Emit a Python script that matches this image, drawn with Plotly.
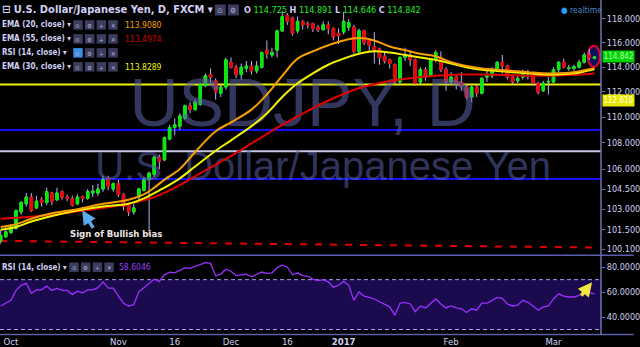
import plotly.graph_objects as go
import pandas as pd

# ---------------- data ----------------
dates = [d.strftime("%Y-%m-%d") for d in pd.bdate_range("2016-09-29", "2017-03-13")]
dates.remove("2017-01-02")

opens = [100.7, 101.0, 101.3, 101.6, 102.8, 103.4, 103.9, 103.1, 103.7, 103.5,
         104.2, 103.7, 104.3, 103.9, 103.8, 103.4, 103.95, 103.8, 104.2, 104.2,
         104.5, 105.3, 104.5, 104.9, 104.1, 103.3, 102.8, 103.9, 104.4, 105.2,
         105.6, 106.9, 106.7, 108.3, 109.2, 109.3, 109.9, 110.9, 110.6, 111.0,
         112.5, 113.4, 112.9, 111.9, 112.4, 114.4, 114.0, 113.4, 113.9, 114.1,
         113.7, 114.0, 115.4, 115.0, 115.4, 117.0, 118.3, 118.1, 117.0, 117.8,
         117.6, 117.6, 117.3, 117.1, 117.5, 117.2, 116.8, 116.9, 117.3, 117.3,
         115.3, 117.0, 116.2, 115.7, 115.5, 114.9, 114.6, 114.2, 112.8, 114.8,
         115.0, 114.6, 112.8, 113.8, 113.3, 114.6, 114.8, 113.8, 112.8, 113.2,
         112.8, 112.4, 111.6, 112.4, 111.9, 113.2, 113.3, 113.7, 114.4, 114.1,
         113.2, 112.9, 113.2, 113.3, 113.3, 112.7, 112.1, 112.8, 112.8, 113.8,
         114.4, 113.9, 113.9, 114.0, 114.4, 115.0, 114.725]
highs = [101.5, 101.7, 101.9, 103.0, 103.6, 104.2, 104.2, 104.0, 103.9, 104.6,
         104.3, 104.6, 104.4, 104.1, 104.0, 104.1, 104.0, 104.5, 104.8, 104.9,
         105.5, 105.5, 105.0, 105.2, 104.2, 103.5, 103.4, 104.6, 105.4, 105.8,
         107.0, 107.1, 108.5, 109.4, 109.9, 110.3, 111.0, 111.2, 111.4, 112.7,
         113.5, 113.9, 113.1, 112.6, 114.8, 114.8, 114.2, 114.3, 114.5, 114.5,
         114.5, 115.3, 116.2, 115.6, 117.1, 118.7, 118.5, 118.2, 118.2, 117.9,
         117.8, 117.7, 117.5, 117.8, 117.8, 117.3, 117.2, 118.6, 118.0, 117.5,
         117.2, 117.1, 116.4, 116.9, 115.6, 115.3, 114.7, 114.3, 114.9, 115.6,
         115.4, 114.7, 114.0, 114.0, 114.7, 115.4, 115.3, 114.0, 113.6, 113.3,
         113.6, 112.6, 112.5, 112.6, 113.2, 113.9, 114.0, 114.5, 115.0, 114.2,
         113.4, 113.3, 113.8, 113.8, 113.4, 112.8, 112.9, 113.2, 114.0, 114.5,
         114.7, 114.2, 114.2, 114.6, 115.2, 115.5, 114.891]
lows = [100.5, 100.9, 101.2, 101.5, 102.6, 103.2, 102.8, 103.0, 103.2, 103.3,
        103.3, 103.6, 103.7, 103.6, 103.2, 103.3, 103.5, 103.7, 103.9, 104.0,
        104.3, 104.4, 104.3, 103.9, 102.9, 102.5, 102.6, 103.7, 104.3, 101.1,
        105.4, 106.0, 106.6, 108.2, 108.6, 109.0, 109.8, 110.3, 110.5, 110.9,
        112.4, 112.7, 111.4, 111.6, 112.2, 113.9, 113.1, 113.0, 113.6, 113.4,
        113.5, 113.9, 114.7, 114.8, 114.8, 116.9, 117.5, 116.6, 116.8, 117.1,
        117.2, 116.9, 116.9, 117.0, 116.7, 116.2, 115.9, 116.7, 117.0, 115.1,
        115.1, 115.8, 115.3, 114.3, 114.2, 114.3, 113.9, 112.6, 112.6, 114.5,
        114.1, 112.5, 112.6, 112.9, 113.2, 114.4, 113.6, 112.1, 112.6, 112.2,
        112.1, 111.4, 111.2, 111.6, 111.8, 112.8, 113.1, 113.6, 113.5, 113.0,
        112.6, 112.7, 113.0, 113.0, 112.5, 111.8, 112.0, 111.8, 112.7, 113.6,
        113.9, 113.7, 113.7, 113.9, 114.3, 114.6, 114.646]
closes = [101.1, 101.35, 101.8, 102.9, 103.5, 103.9, 102.9, 103.6, 103.5, 104.3,
          103.6, 104.2, 103.9, 103.8, 103.3, 103.9, 103.8, 104.3, 104.35, 104.5,
          105.2, 104.7, 104.9, 104.1, 103.2, 102.8, 103.1, 104.5, 105.2, 105.7,
          106.9, 106.6, 108.4, 109.2, 109.4, 110.1, 110.9, 110.6, 111.2, 112.6,
          113.3, 113.2, 112.0, 112.4, 114.6, 114.0, 113.4, 114.0, 114.1, 113.7,
          114.1, 115.2, 115.1, 115.2, 117.0, 118.2, 117.8, 116.8, 117.8, 117.5,
          117.5, 117.2, 117.1, 117.5, 117.2, 116.5, 116.6, 117.8, 117.7, 115.3,
          117.0, 116.0, 115.8, 115.4, 114.8, 114.5, 114.3, 112.8, 114.8, 115.0,
          114.6, 112.7, 113.8, 113.2, 114.6, 115.2, 113.8, 112.8, 113.2, 112.7,
          112.5, 111.6, 112.4, 111.9, 113.1, 113.3, 113.8, 114.4, 114.1, 113.2,
          112.8, 113.1, 113.6, 113.35, 112.7, 112.0, 112.7, 112.85, 113.8, 114.4,
          114.0, 113.95, 114.05, 114.4, 115.0, 114.8, 114.842]

ema_pts = [0, 3, 6, 10, 15, 20, 25, 28, 30, 32, 35, 38, 42, 45, 49, 52, 55, 58, 61, 64,
           67, 70, 73, 76, 79, 82, 85, 88, 91, 94, 97, 100, 103, 106, 109, 112, 114, 116]
ema20 = [101.7, 101.9, 102.3, 102.7, 103.0, 103.4, 103.7, 104.1, 104.6, 105.2, 106.0, 107.3,
         108.9, 109.6, 110.6, 111.8, 113.3, 114.7, 115.3, 115.8, 116.2, 116.4, 116.2, 115.7,
         115.4, 115.1, 114.9, 114.4, 114.1, 113.9, 113.8, 113.7, 113.6, 113.5, 113.5, 113.6,
         113.75, 113.908]
ema30 = [101.5, 101.7, 102.1, 102.5, 102.9, 103.2, 103.4, 103.8, 104.2, 104.6, 105.3, 106.2,
         107.4, 108.2, 109.3, 110.3, 111.6, 112.7, 113.5, 114.2, 114.7, 115.1, 115.3, 115.2,
         115.0, 114.8, 114.6, 114.3, 114.0, 113.8, 113.7, 113.6, 113.5, 113.4, 113.4, 113.5,
         113.65, 113.8289]
ema55_pts = [0, 10, 20, 25, 30, 35, 40, 45, 50, 55, 60, 65, 70, 75, 80, 85, 90, 95, 100,
             105, 110, 116]
ema55 = [102.3, 102.6, 103.1, 103.4, 103.9, 104.8, 105.9, 107.0, 108.2, 109.4, 110.5, 111.5,
         112.3, 112.8, 113.1, 113.3, 113.4, 113.4, 113.35, 113.3, 113.35, 113.4974]

rsi = [48.9, 51.0, 53.4, 61.4, 65.5, 67.0, 59.0, 61.8, 61.8, 64.8,
       61.4, 63.0, 61.4, 61.4, 58.0, 60.7, 59.5, 61.8, 61.8, 63.6,
       68.2, 63.2, 63.2, 56.8, 51.1, 48.9, 50.0, 60.2, 64.0, 67.0,
       70.5, 68.6, 73.9, 76.1, 75.5, 77.7, 79.5, 79.0, 80.7, 82.3,
       83.6, 83.0, 73.2, 74.5, 78.4, 76.8, 73.2, 73.9, 74.5, 72.3,
       73.9, 76.1, 75.0, 75.5, 79.5, 81.8, 80.0, 73.9, 75.5, 73.2,
       72.7, 70.5, 69.3, 70.0, 68.2, 64.0, 65.5, 68.6, 65.5, 53.4,
       60.2, 56.8, 55.7, 54.5, 52.3, 50.0, 48.2, 41.5, 51.1, 51.8,
       50.5, 44.3, 48.9, 47.3, 51.1, 54.5, 50.5, 47.3, 48.9, 47.3,
       46.6, 43.6, 46.6, 45.5, 51.1, 51.1, 53.4, 55.7, 55.0, 50.5,
       48.9, 49.5, 53.4, 51.8, 48.9, 45.5, 48.2, 48.9, 54.5, 58.6,
       56.8, 56.1, 56.1, 57.3, 60.4, 59.4, 58.6046]

level_prices = [112.61, 109.0, 107.35, 105.25]
level_colors = ["#f0f000", "#1010ff", "#c4c4e4", "#1010ff"]
trend_prices = [100.7, 100.22]

price_ticks = [118, 116, 114, 112, 110, 108, 106, 104.5, 103, 101.5, 100.1]
rsi_ticks = [40, 60, 80]
rsi_bands = [30, 70]
xtick_dates = ["2016-10-03", "2016-11-01", "2016-11-16", "2016-12-01", "2016-12-16",
               "2017-01-03", "2017-02-01", "2017-03-01"]
xtick_text = ["Oct", "Nov", "16", "Dec", "16", "<b>2017</b>", "Feb", "Mar"]

# ---------------- geometry helpers ----------------
PW, PH = 607.0, 335.0
def PX(x):
    return x / PW
def PY(y):
    return 1 - y / PH

FONT = "Liberation Sans Narrow, DejaVu Sans Condensed, Liberation Sans, sans-serif"
WFONT = "Liberation Sans, Arial, sans-serif"
TXT = "#d0d0f4"
WM = "rgba(92,98,170,0.55)"

fig = go.Figure()

# watermark (behind everything)
fig.add_trace(go.Scatter(x=[dates[59]], y=[110.64], mode="text", text=["USDJPY, D"],
                         textfont=dict(family=WFONT, size=68, color=WM),
                         xaxis="x2", yaxis="y", hoverinfo="skip"))
fig.add_trace(go.Scatter(x=[dates[63]], y=[105.95], mode="text", text=["U.S. Dollar/Japanese Yen"],
                         textfont=dict(family=WFONT, size=40, color=WM),
                         xaxis="x2", yaxis="y", hoverinfo="skip"))

# candles: wicks, then bodies
fig.add_trace(go.Candlestick(x=dates, open=opens, high=highs, low=lows, close=closes,
                             xaxis="x2", yaxis="y",
                             increasing=dict(line=dict(color="#b4b4f0", width=1), fillcolor="#b4b4f0"),
                             decreasing=dict(line=dict(color="#b4b4f0", width=1), fillcolor="#b4b4f0"),
                             hoverinfo="skip"))
body_hi = [max(o, c) for o, c in zip(opens, closes)]
body_lo = [min(o, c) for o, c in zip(opens, closes)]
fig.add_trace(go.Candlestick(x=dates, open=opens, high=body_hi, low=body_lo, close=closes,
                             xaxis="x2", yaxis="y",
                             increasing=dict(line=dict(color="#00ee00", width=1), fillcolor="#00ee00"),
                             decreasing=dict(line=dict(color="#ee0000", width=1), fillcolor="#ee0000"),
                             hoverinfo="skip"))

# EMAs
fig.add_trace(go.Scatter(x=[dates[i] for i in ema55_pts], y=ema55, mode="lines",
                         line=dict(color="#e00000", width=2, shape="spline"), xaxis="x2", yaxis="y"))
fig.add_trace(go.Scatter(x=[dates[i] for i in ema_pts], y=ema30, mode="lines",
                         line=dict(color="#f4f400", width=2, shape="spline"), xaxis="x2", yaxis="y"))
fig.add_trace(go.Scatter(x=[dates[i] for i in ema_pts], y=ema20, mode="lines",
                         line=dict(color="#f5a000", width=2, shape="spline"), xaxis="x2", yaxis="y"))

# RSI
fig.add_trace(go.Scatter(x=dates, y=rsi, mode="lines", line=dict(color="#9a30ff", width=1.3),
                         xaxis="x", yaxis="y2"))

shapes = []
for p, c in zip(level_prices, level_colors):
    shapes.append(dict(type="line", xref="paper", yref="y", x0=0, x1=1, y0=p, y1=p,
                       line=dict(color=c, width=2), layer="below"))
shapes.append(dict(type="line", xref="paper", yref="y", x0=0, x1=1,
                   y0=trend_prices[0], y1=trend_prices[1],
                   line=dict(color="#e00000", width=2, dash="7px,8px"), layer="below"))
shapes.append(dict(type="circle", xref="paper", yref="paper", x0=PX(593.5), x1=PX(606),
                   y0=PY(67), y1=PY(46), line=dict(color="#e8002a", width=2),
                   fillcolor="#10105a", layer="below"))
shapes.append(dict(type="rect", xref="paper", yref="y2", x0=0, x1=1, y0=rsi_bands[0], y1=rsi_bands[1],
                   fillcolor="#1c0a4e", line=dict(width=0), layer="below"))
for b in rsi_bands:
    shapes.append(dict(type="line", xref="paper", yref="y2", x0=0, x1=1, y0=b, y1=b,
                       line=dict(color="#a89cf8", width=1, dash="4px,3px"), layer="below"))
shapes.append(dict(type="line", xref="paper", yref="paper", x0=0, x1=640 / PW, y0=PY(256), y1=PY(256),
                   line=dict(color="#5c5cb0", width=1.5)))
shapes.append(dict(type="line", xref="paper", yref="paper", x0=0, x1=640 / PW, y0=PY(335.5), y1=PY(335.5),
                   line=dict(color="#5c5cb0", width=1.5)))
shapes.append(dict(type="line", xref="paper", yref="paper", x0=1, x1=1, y0=PY(336), y1=1,
                   line=dict(color="#7070b4", width=1.5)))

annotations = []
def ann(x, y, text, size=9, color=TXT, anchor="left", **kw):
    kw.setdefault("borderpad", 0)
    annotations.append(dict(xref="paper", yref="paper", x=PX(x), y=PY(y), text=text, showarrow=False,
                            xanchor=anchor, yanchor="middle",
                            font=dict(family=FONT, size=size, color=color), **kw))

def icons(x, y, n, size=9.5, first_active=False):
    syms = ["⊙", "⚙", "+", "✕"][:n]
    for k, s in enumerate(syms):
        x0 = x + k * (size + 2.3)
        fill = "#3a8ee6" if (first_active and k == 0) else "#3c3c5e"
        shapes.append(dict(type="rect", xref="paper", yref="paper", x0=PX(x0), x1=PX(x0 + size),
                           y0=PY(y + size / 2), y1=PY(y - size / 2), fillcolor=fill,
                           line=dict(width=0)))
        ann(x0 + size / 2, y + 0.5, s, size=size - 3.5, color="#b8b8d8", anchor="center")

# header
ann(1, 10, "<b>⊟ U.S. Dollar/Japanese Yen, D, FXCM ▾</b>", size=11)
icons(217, 10, 2, size=11)
G = "<span style='color:#22ee22'>%.3f</span>"
ohlc_txt = ("<b>O</b> " + G + " <b>H</b> " + G + " <b>L</b> " + G + " <b>C</b> " + G) % (
    opens[-1], highs[-1], lows[-1], closes[-1])
ann(245, 10, ohlc_txt, size=9)
ann(566, 10, "<span style='color:#2a9df4'>●</span> realtime", size=8.5, color="#4a86c0")

rows = [("EMA (20, close) ▾", "%.4f" % ema20[-1], "#f5a000", 25, False),
        ("EMA (55, close) ▾", "%.4f" % ema55[-1], "#d00000", 39, False),
        ("RSI (14, close) ▾", "", "#9a30ff", 53, True),
        ("EMA (30, close) ▾", "%.4f" % ema30[-1], "#f4f400", 67, False)]
for label, val, col, y, act in rows:
    ann(1, y, "<b>" + label + "</b>", size=8)
    icons(74, y, 4, first_active=act)
    if val:
        ann(125, y, val, size=8.5, color=col)

# RSI panel header
ann(1, 268, "<b>RSI (14, close) ▾</b>", size=8)
icons(70, 268, 4)
ann(119, 268, "%.4f" % rsi[-1], size=8.5, color="#9a40ff")

# price tags on axis
ann(608, 56.5, "%.3f" % closes[-1], size=8, color="#b0ffb0", bgcolor="#00d400",
    width=31, height=11)
ann(608, 101, "%.3f" % level_prices[0], size=8, color="#fffff0", bgcolor="#e8e800",
    width=31, height=11)

# notes
ann(70, 234, "<b>Sign of Bullish bias</b>", size=9.5, color="#f0e6e6")
annotations.append(dict(xref="paper", yref="paper", x=PX(83), y=PY(211), ax=12, ay=19, text="",
                        showarrow=True, arrowhead=2, arrowsize=0.8, arrowwidth=3.5, arrowcolor="#5aaaf0"))
annotations.append(dict(xref="paper", yref="paper", x=PX(598), y=PY(283), ax=-12, ay=15, text="",
                        showarrow=True, arrowhead=2, arrowsize=0.8, arrowwidth=3.5, arrowcolor="#f2e640"))

rb = [dict(bounds=["sat", "mon"]), dict(values=["2017-01-02"])]
xrange = ["2016-09-28 20:53", "2017-03-14 06:43"]
tickfont = dict(family=FONT, size=9, color=TXT)

fig.update_layout(
    width=640, height=347, margin=dict(l=0, r=33, t=0, b=12),
    paper_bgcolor="#000000", plot_bgcolor="#000000",
    showlegend=False, hovermode=False, boxgap=0.32,
    xaxis=dict(domain=[0, 1], anchor="y2", type="date", rangebreaks=rb, range=xrange,
               tickvals=xtick_dates, ticktext=xtick_text, showgrid=False, zeroline=False,
               ticks="", tickfont=dict(family=FONT, size=9.5, color=TXT), ticklabelstandoff=0,
               rangeslider=dict(visible=False)),
    xaxis2=dict(domain=[0, 1], anchor="y", type="date", matches="x", rangebreaks=rb, range=xrange,
                showticklabels=False, showgrid=False, zeroline=False, ticks="",
                rangeslider=dict(visible=False)),
    yaxis=dict(domain=[1 - 255 / PH, 1], anchor="x2", type="log", side="right",
               range=[1.998884, 2.077758], tickvals=price_ticks,
               ticktext=["%.3f" % t for t in price_ticks], showgrid=False, zeroline=False,
               ticks="outside", ticklen=3, tickcolor="#7070b4", tickfont=tickfont),
    yaxis2=dict(domain=[0, 1 - 257 / PH], anchor="x", side="right", range=[26.4, 88.8],
                tickvals=rsi_ticks, ticktext=["%.4f" % t for t in rsi_ticks], showgrid=False,
                zeroline=False, ticks="outside", ticklen=3, tickcolor="#7070b4", tickfont=tickfont),
    shapes=shapes, annotations=annotations,
)

fig.write_html("out.html")
